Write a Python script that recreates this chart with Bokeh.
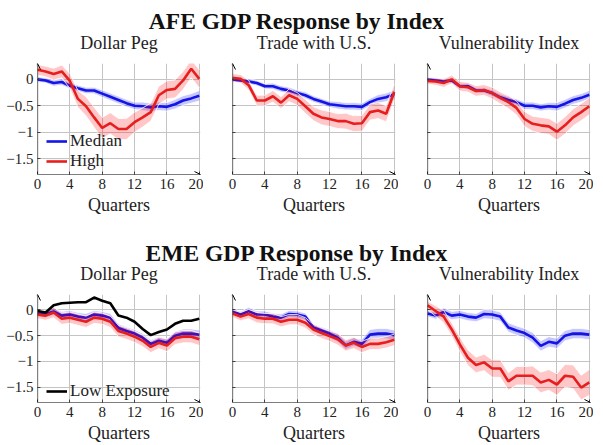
from bokeh.plotting import figure
from bokeh.models import Range1d, Legend, LegendItem, Arrow, OpenHead, FixedTicker, Label
from bokeh.layouts import column, row
from bokeh.embed import file_html
from bokeh.resources import INLINE

quarters = list(range(21))
x_ticks = [0, 4, 8, 12, 16, 20]
y_ticks = [0, -0.5, -1, -1.5]
y_tick_labels = {0: "0", -0.5: "\u22120.5", -1: "\u22121", -1.5: "\u22121.5"}
panel_titles = ["Dollar Peg", "Trade with U.S.", "Vulnerability Index"]
row_titles = ["AFE GDP Response by Index", "EME GDP Response by Index"]

# ---- AFE ----
afe_peg_med = [0.00, -0.02, -0.07, -0.05, -0.12, -0.17, -0.21, -0.21, -0.27, -0.33, -0.39, -0.45, -0.50, -0.51, -0.53, -0.51, -0.52, -0.47, -0.40, -0.36, -0.31]
afe_peg_med_hw = [0.05, 0.05, 0.06, 0.06, 0.06, 0.06, 0.06, 0.06, 0.07, 0.07, 0.07, 0.07, 0.07, 0.08, 0.08, 0.08, 0.08, 0.09, 0.09, 0.09, 0.10]
afe_peg_high = [0.18, 0.15, 0.10, 0.15, -0.03, -0.37, -0.51, -0.72, -0.92, -0.83, -0.94, -0.94, -0.81, -0.72, -0.62, -0.30, -0.20, -0.18, -0.02, 0.20, 0.01]
afe_peg_high_hw = [0.10, 0.10, 0.11, 0.12, 0.14, 0.16, 0.18, 0.19, 0.20, 0.20, 0.20, 0.20, 0.19, 0.18, 0.17, 0.17, 0.17, 0.17, 0.17, 0.17, 0.17]

afe_trade_med = [0.00, -0.02, -0.04, -0.07, -0.13, -0.13, -0.18, -0.21, -0.26, -0.30, -0.37, -0.42, -0.47, -0.49, -0.51, -0.51, -0.52, -0.43, -0.37, -0.34, -0.28]
afe_trade_med_hw = [0.04, 0.04, 0.05, 0.05, 0.05, 0.06, 0.06, 0.06, 0.06, 0.06, 0.06, 0.06, 0.06, 0.07, 0.07, 0.07, 0.07, 0.07, 0.08, 0.08, 0.08]
afe_trade_high = [0.03, 0.01, -0.11, -0.40, -0.40, -0.32, -0.44, -0.30, -0.37, -0.51, -0.65, -0.72, -0.75, -0.79, -0.79, -0.84, -0.83, -0.62, -0.59, -0.65, -0.24]
afe_trade_high_hw = [0.08, 0.08, 0.09, 0.10, 0.10, 0.11, 0.11, 0.12, 0.12, 0.13, 0.13, 0.14, 0.14, 0.14, 0.15, 0.15, 0.15, 0.15, 0.15, 0.15, 0.15]

afe_vuln_med = [0.00, -0.02, -0.04, -0.02, -0.13, -0.13, -0.21, -0.21, -0.26, -0.34, -0.39, -0.43, -0.50, -0.50, -0.53, -0.51, -0.52, -0.46, -0.39, -0.35, -0.29]
afe_vuln_med_hw = [0.04, 0.04, 0.04, 0.05, 0.05, 0.05, 0.05, 0.05, 0.06, 0.06, 0.06, 0.06, 0.07, 0.07, 0.07, 0.07, 0.08, 0.08, 0.08, 0.08, 0.08]
afe_vuln_high = [-0.03, -0.04, -0.07, 0.00, -0.13, -0.15, -0.22, -0.20, -0.26, -0.35, -0.43, -0.54, -0.75, -0.84, -0.87, -0.89, -0.99, -0.87, -0.72, -0.62, -0.51]
afe_vuln_high_hw = [0.06, 0.07, 0.08, 0.08, 0.09, 0.09, 0.10, 0.10, 0.11, 0.11, 0.12, 0.13, 0.14, 0.14, 0.15, 0.15, 0.16, 0.16, 0.16, 0.16, 0.16]

# ---- EME ----
eme_peg_low = [-0.02, -0.05, 0.09, 0.13, 0.14, 0.15, 0.15, 0.24, 0.18, 0.13, -0.11, -0.15, -0.23, -0.37, -0.49, -0.43, -0.38, -0.27, -0.21, -0.21, -0.17]
eme_peg_med = [-0.07, -0.08, -0.03, -0.11, -0.09, -0.13, -0.15, -0.09, -0.11, -0.15, -0.35, -0.41, -0.46, -0.54, -0.66, -0.60, -0.64, -0.50, -0.46, -0.46, -0.48]
eme_peg_med_hw = [0.06, 0.07, 0.07, 0.08, 0.08, 0.08, 0.08, 0.08, 0.08, 0.08, 0.08, 0.08, 0.08, 0.08, 0.08, 0.08, 0.08, 0.08, 0.09, 0.09, 0.09]
eme_peg_high = [-0.09, -0.11, -0.05, -0.17, -0.15, -0.19, -0.23, -0.15, -0.17, -0.23, -0.41, -0.46, -0.52, -0.60, -0.72, -0.64, -0.69, -0.55, -0.52, -0.52, -0.57]
eme_peg_high_hw = [0.08, 0.09, 0.10, 0.11, 0.11, 0.11, 0.11, 0.11, 0.11, 0.11, 0.11, 0.11, 0.11, 0.11, 0.11, 0.11, 0.12, 0.12, 0.12, 0.12, 0.12]

eme_trade_med = [-0.02, -0.09, -0.02, -0.09, -0.09, -0.13, -0.15, -0.08, -0.09, -0.13, -0.34, -0.40, -0.46, -0.54, -0.69, -0.62, -0.66, -0.48, -0.46, -0.46, -0.49]
eme_trade_med_hw = [0.05, 0.06, 0.07, 0.07, 0.07, 0.07, 0.07, 0.07, 0.07, 0.07, 0.07, 0.07, 0.08, 0.08, 0.08, 0.08, 0.09, 0.10, 0.10, 0.10, 0.10]
eme_trade_high = [-0.07, -0.13, -0.08, -0.15, -0.17, -0.17, -0.23, -0.19, -0.19, -0.25, -0.38, -0.45, -0.51, -0.57, -0.69, -0.64, -0.72, -0.66, -0.66, -0.63, -0.58]
eme_trade_high_hw = [0.07, 0.08, 0.09, 0.10, 0.10, 0.10, 0.10, 0.10, 0.10, 0.10, 0.10, 0.10, 0.10, 0.11, 0.11, 0.11, 0.11, 0.11, 0.11, 0.11, 0.11]

eme_vuln_med = [-0.07, -0.11, -0.04, -0.11, -0.09, -0.13, -0.15, -0.08, -0.09, -0.13, -0.34, -0.40, -0.45, -0.54, -0.70, -0.62, -0.65, -0.50, -0.46, -0.46, -0.48]
eme_vuln_med_hw = [0.06, 0.07, 0.08, 0.08, 0.08, 0.08, 0.08, 0.09, 0.09, 0.09, 0.09, 0.09, 0.09, 0.10, 0.10, 0.10, 0.10, 0.10, 0.10, 0.10, 0.10]
eme_vuln_high = [0.09, -0.02, -0.13, -0.38, -0.67, -0.93, -1.07, -1.02, -1.14, -1.14, -1.39, -1.28, -1.28, -1.28, -1.41, -1.36, -1.45, -1.28, -1.30, -1.51, -1.41]
eme_vuln_high_hw = [0.08, 0.10, 0.12, 0.13, 0.14, 0.15, 0.15, 0.16, 0.17, 0.17, 0.17, 0.18, 0.18, 0.19, 0.20, 0.20, 0.21, 0.22, 0.23, 0.24, 0.25]

BLUE = "#1414e6"
RED = "#e61e1e"
BLUE_BAND = "#0000ff"
RED_BAND = "#ff0000"
FONT = "Liberation Serif"
TXT = "#222222"

X0, X1 = 0, 20.15
Y0, Y1 = -1.8, 0.3

# layout constants (pixels)
FRAME_W = 163
BORDER_L = [37, 29, 29]
BORDER_R = 3
PANEL_W = [b + FRAME_W + BORDER_R for b in BORDER_L]
TOTAL_W = sum(PANEL_W)


def band(p, mid, hw, color):
    lo = [m - h for m, h in zip(mid, hw)]
    hi = [m + h for m, h in zip(mid, hw)]
    p.varea(x=quarters, y1=lo, y2=hi, fill_color=color, fill_alpha=0.22)
    p.line(quarters, lo, line_color="white", line_width=1, line_alpha=0.8)
    p.line(quarters, hi, line_color="white", line_width=1, line_alpha=0.8)


def panel(idx, med, med_hw, high, high_hw, low=None, height=177, bottom=58):
    first = idx == 0
    left = BORDER_L[idx]
    p = figure(width=PANEL_W[idx], height=height,
               x_range=Range1d(X0, X1), y_range=Range1d(Y0, Y1),
               output_backend="svg", toolbar_location=None,
               min_border_left=left, min_border_right=BORDER_R, min_border_top=8,
               min_border_bottom=bottom)
    p.outline_line_color = None
    p.background_fill_color = "white"

    p.xaxis.ticker = FixedTicker(ticks=x_ticks)
    p.yaxis.ticker = FixedTicker(ticks=y_ticks)
    p.xgrid.ticker = FixedTicker(ticks=x_ticks)
    p.ygrid.ticker = FixedTicker(ticks=y_ticks)
    p.grid.grid_line_color = "#c4c4c4"
    p.grid.grid_line_width = 1
    for ax in (p.xaxis, p.yaxis):
        ax.axis_line_color = None
        ax.major_tick_in = 3
        ax.major_tick_out = 0
        ax.major_tick_line_color = "#444444"
        ax.minor_tick_line_color = None
        ax.major_label_text_font = FONT
        ax.major_label_text_font_size = "15px"
        ax.major_label_text_color = TXT
        ax.major_label_standoff = 4
    p.xaxis.axis_label = "Quarters"
    p.xaxis.axis_label_text_font = FONT
    p.xaxis.axis_label_text_font_size = "18px"
    p.xaxis.axis_label_text_font_style = "normal"
    p.xaxis.axis_label_text_color = TXT
    p.xaxis.axis_label_standoff = 3
    if first:
        p.yaxis.major_label_overrides = y_tick_labels
    else:
        p.yaxis.major_label_overrides = {k: "" for k in y_ticks}
        p.yaxis.major_label_standoff = 0

    band(p, med, med_hw, BLUE_BAND)
    r_med = p.line(quarters, med, line_color=BLUE, line_width=2.6)
    band(p, high, high_hw, RED_BAND)
    r_high = p.line(quarters, high, line_color=RED, line_width=2.6)
    r_low = None
    if low is not None:
        r_low = p.line(quarters, low, line_color="black", line_width=2.6)

    # axis lines with arrow heads (pgfplots style)
    p.add_layout(Arrow(end=OpenHead(size=6, line_width=1, line_color="black"),
                       x_start=X0, y_start=Y0, x_end=X1, y_end=Y0,
                       line_width=1.2, line_color="black"))
    p.add_layout(Arrow(end=OpenHead(size=6, line_width=1, line_color="black"),
                       x_start=X0, y_start=Y0, x_end=X0, y_end=Y1,
                       line_width=1.2, line_color="black"))
    return p, r_med, r_high, r_low


def add_legend(p, items, loc):
    leg = Legend(items=[LegendItem(label=l, renderers=[r]) for l, r in items],
                 location=loc, orientation="vertical")
    leg.background_fill_alpha = 0
    leg.border_line_color = None
    leg.label_text_font = FONT
    leg.label_text_font_size = "17px"
    leg.label_text_color = TXT
    leg.padding = 0
    leg.spacing = 0
    leg.margin = 0
    leg.glyph_width = 21
    leg.glyph_height = 12
    leg.label_height = 12
    leg.label_standoff = 3
    p.add_layout(leg, "center")


def header(main_text, height, main_y, sub_y):
    # pixel-space header strip holding the row title and the three panel titles
    t = figure(width=TOTAL_W, height=height, output_backend="svg", toolbar_location=None,
               x_range=Range1d(0, TOTAL_W), y_range=Range1d(height, 0),
               min_border_left=0, min_border_right=0, min_border_top=0, min_border_bottom=0)
    t.axis.visible = False
    t.grid.visible = False
    t.outline_line_color = None
    t.add_layout(Label(x=TOTAL_W / 2, y=main_y, text=main_text, text_align="center",
                       text_baseline="middle", text_font=FONT, text_font_size="23.5px",
                       text_font_style="bold", text_color="#111111"))
    x_off = 0
    for i, sub in enumerate(panel_titles):
        cx = x_off + BORDER_L[i] + FRAME_W / 2
        t.add_layout(Label(x=cx, y=sub_y, text=sub, text_align="center",
                           text_baseline="middle", text_font=FONT, text_font_size="18px",
                           text_color=TXT))
        x_off += PANEL_W[i]
    return t


# Top row
p1, m1, h1, _ = panel(0, afe_peg_med, afe_peg_med_hw, afe_peg_high, afe_peg_high_hw, height=177, bottom=58)
add_legend(p1, [("Median", m1), ("High", h1)], (9, 3))
p2, _, _, _ = panel(1, afe_trade_med, afe_trade_med_hw, afe_trade_high, afe_trade_high_hw, height=177, bottom=58)
p3, _, _, _ = panel(2, afe_vuln_med, afe_vuln_med_hw, afe_vuln_high, afe_vuln_high_hw, height=177, bottom=58)

# Bottom row
p4, m4, h4, l4 = panel(0, eme_peg_med, eme_peg_med_hw, eme_peg_high, eme_peg_high_hw, low=eme_peg_low, height=159, bottom=40)
add_legend(p4, [("Low Exposure", l4)], (9, 1))
p5, _, _, _ = panel(1, eme_trade_med, eme_trade_med_hw, eme_trade_high, eme_trade_high_hw, height=159, bottom=40)
p6, _, _, _ = panel(2, eme_vuln_med, eme_vuln_med_hw, eme_vuln_high, eme_vuln_high_hw, height=159, bottom=40)

h_top = header(row_titles[0], 55, 20, 42)
h_bot = header(row_titles[1], 54, 20, 41)

layout = column(h_top, row(p1, p2, p3), h_bot, row(p4, p5, p6))

open("out.html", "w").write(file_html(layout, INLINE))
